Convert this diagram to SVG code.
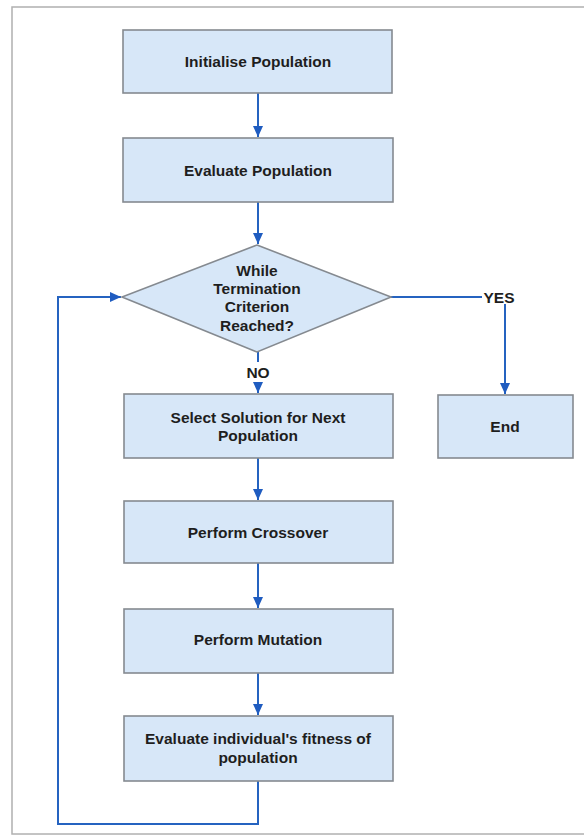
<svg xmlns="http://www.w3.org/2000/svg" width="584" height="840" viewBox="0 0 584 840">
<defs>
<style>
.box{fill:#d7e7f8;stroke:#858a90;stroke-width:1.6}
.t{font-family:"Liberation Sans",Arial,sans-serif;font-weight:bold;font-size:15.5px;fill:#1e1e1e;text-anchor:middle}
.c{fill:none;stroke:#2563c0;stroke-width:2}
</style>
<marker id="ah" markerUnits="userSpaceOnUse" markerWidth="12" markerHeight="12" viewBox="0 0 12 12" refX="11" refY="6" orient="auto">
<path d="M0,1 L11,6 L0,11 Z" fill="#1f5cc0"/>
</marker>
</defs>
<rect x="0" y="0" width="584" height="840" fill="#ffffff"/>
<rect x="12" y="7" width="590" height="827" fill="none" stroke="#b0b0b0" stroke-width="1.5"/>

<g id="connectors">
<line class="c" x1="258" y1="93" x2="258" y2="137" marker-end="url(#ah)"/>
<line class="c" x1="258" y1="202" x2="258" y2="244" marker-end="url(#ah)"/>
<line class="c" x1="258" y1="352" x2="258" y2="362"/>
<line class="c" x1="258" y1="383" x2="258" y2="393" marker-end="url(#ah)"/>
<line class="c" x1="391" y1="297" x2="482" y2="297"/>
<line class="c" x1="505" y1="304" x2="505" y2="394" marker-end="url(#ah)"/>
<line class="c" x1="258" y1="458" x2="258" y2="500" marker-end="url(#ah)"/>
<line class="c" x1="258" y1="563" x2="258" y2="608" marker-end="url(#ah)"/>
<line class="c" x1="258" y1="673" x2="258" y2="715" marker-end="url(#ah)"/>
<polyline class="c" points="258,781 258,824 58,824 58,297 121,297" marker-end="url(#ah)"/>
<text class="t" x="258" y="377.5">NO</text>
<text class="t" x="499" y="302.5">YES</text>
</g>

<g id="n1">
<rect class="box" x="123" y="30" width="269" height="63"/>
<text class="t" x="258" y="67">Initialise Population</text>
</g>
<g id="n2">
<rect class="box" x="123" y="138" width="270" height="64"/>
<text class="t" x="258" y="175.5">Evaluate Population</text>
</g>
<g id="n3">
<polygon class="box" points="257,245 391,297 257,352 122,297"/>
<text class="t" x="257" y="275.5">While</text>
<text class="t" x="257" y="293.5">Termination</text>
<text class="t" x="257" y="312">Criterion</text>
<text class="t" x="257" y="330.5">Reached?</text>
</g>
<g id="n4">
<rect class="box" x="124" y="394" width="269" height="64"/>
<text class="t" x="258" y="422.5">Select Solution for Next</text>
<text class="t" x="258" y="440.5">Population</text>
</g>
<g id="n5">
<rect class="box" x="438" y="395" width="135" height="63"/>
<text class="t" x="505" y="431.5">End</text>
</g>
<g id="n6">
<rect class="box" x="124" y="501" width="269" height="62"/>
<text class="t" x="258" y="537.5">Perform Crossover</text>
</g>
<g id="n7">
<rect class="box" x="124" y="609" width="269" height="64"/>
<text class="t" x="258" y="645">Perform Mutation</text>
</g>
<g id="n8">
<rect class="box" x="124" y="716" width="269" height="65"/>
<text class="t" x="258" y="743.5">Evaluate individual's fitness of</text>
<text class="t" x="258" y="762.5">population</text>
</g>
</svg>
